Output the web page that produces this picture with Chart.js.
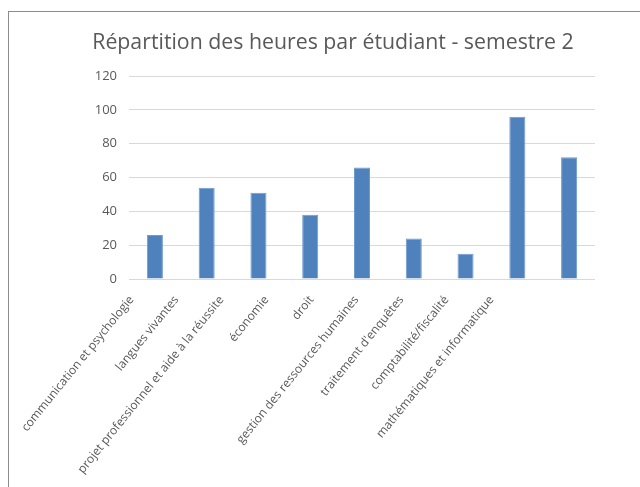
<!DOCTYPE html>
<html>
<head>
<meta charset="utf-8">
<script src="https://cdn.jsdelivr.net/npm/chart.js@4"></script>
<style>
    body { margin: 0; background: #fff; overflow: hidden; }
    #frame { position: absolute; left: 8px; top: 11px; width: 700px; height: 600px;
             border-left: 1px solid #8c8c8c; border-top: 1px solid #8c8c8c; }
    #wrap { position: absolute; left: 0; top: 0; width: 640px; height: 487px; }
</style>
</head>
<body>
<div id="frame"></div>
<div id="wrap"><canvas id="chart_canvas"></canvas></div>
<script>
// Données
const matieres = [
    'communication et psychologie',
    'langues vivantes',
    'projet professionnel et aide à la réussite',
    'économie',
    'droit',
    'gestion des ressources humaines',
    "traitement d'enquêtes",
    'comptabilité/fiscalité',
    'mathématiques et informatique'
]
const heures = [26, 54, 51, 38, 66, 24, 15, 96, 72]
const yTicks = [0, 20, 40, 60, 80, 100, 120]

const ctx = document.getElementById('chart_canvas').getContext('2d')

const config = {
    type: 'bar',
    data: {
        labels: matieres,
        datasets: [{
            label: 'heures',
            data: heures,
            xAxisID: 'x',
            yAxisID: 'y',
            backgroundColor: '#4f81bd',
            borderColor: '#6f9ad0',
            borderWidth: 1,
            categoryPercentage: 1,
            barPercentage: 0.31
        }]
    },
    options: {
        responsive: false,
        animation: false,
        layout: {
            padding: { left: 71, right: 45, top: 0, bottom: 0 }
        },
        scales: {
            x: {
                display: false
            },
            // axe des libellés : Excel les resserre un peu par rapport aux barres
            libelles: {
                type: 'linear',
                axis: 'x',
                position: 'bottom',
                offset: false,
                min: -0.056,
                max: 10.3,
                afterBuildTicks: (scale) => {
                    scale.ticks = matieres.map((m, i) => ({ value: i }))
                },
                afterFit: (scale) => {
                    scale.height = 208
                    scale.paddingLeft = 0
                    scale.paddingRight = 0
                },
                grid: { display: false },
                border: { display: false },
                ticks: {
                    autoSkip: false,
                    minRotation: 51,
                    maxRotation: 51,
                    color: '#595959',
                    padding: 6,
                    font: { family: 'Open Sans', size: 12 },
                    callback: (value) => matieres[value]
                }
            },
            y: {
                min: 0,
                max: 120,
                afterBuildTicks: (scale) => {
                    scale.ticks = yTicks.map(v => ({ value: v }))
                },
                afterFit: (scale) => {
                    scale.width = 58
                    scale.paddingTop = 0
                    scale.paddingBottom = 0
                },
                grid: { color: '#d9d9d9', drawTicks: false },
                border: { display: false },
                ticks: {
                    color: '#595959',
                    padding: 12,
                    font: { family: 'Open Sans', size: 13 }
                }
            }
        },
        plugins: {
            legend: { display: false },
            tooltip: { enabled: false },
            title: {
                display: true,
                text: 'Répartition des heures par étudiant - semestre 2',
                color: '#595959',
                font: { family: 'Open Sans', size: 21.3, weight: 'normal' },
                padding: { top: 30, bottom: 20.5 }
            }
        }
    }
}

const canvas = document.getElementById('chart_canvas')
canvas.width = 640
canvas.height = 487
const myChart = new Chart(ctx, config)
</script>
</body>
</html>
